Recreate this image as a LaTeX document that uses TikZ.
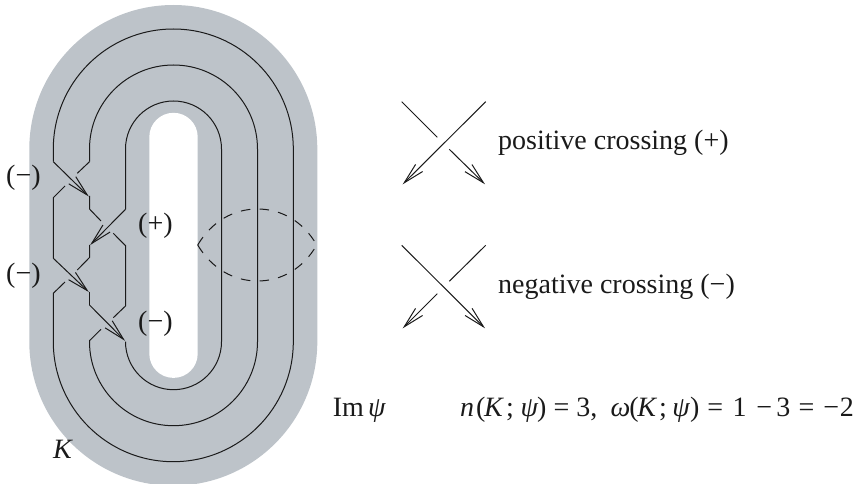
\documentclass[tikz,border=0pt]{standalone}
\usepackage{fontspec}
\setmainfont{Liberation Serif}
\usetikzlibrary{arrows.meta}
\definecolor{band}{HTML}{BDC3C9}
\definecolor{ink}{HTML}{1A1A1A}
\newcommand\placeat[2]{\makebox[0pt][l]{\hspace{#1pt}#2}}
\tikzset{
  strand/.style={draw=ink,line width=1pt,line join=miter},
  arrowed/.style={strand,-{Straight Barb[length=21pt,width=10pt,line width=1pt]}},
  lbl/.style={inner sep=0pt,anchor=base west,text=ink,font=\fontsize{28}{30}\selectfont},
  dashline/.style={draw=ink,line width=1pt,dash pattern=on 9.5pt off 9.3pt}
}
\begin{document}
\begin{tikzpicture}[x=1pt,y=-1pt]
\useasboundingbox (0,0) rectangle (855,484);
\begin{scope}
\clip (0,0) rectangle (855,484);
\fill[band] (29.3,149) arc[start angle=180,end angle=360,radius=144] -- (317.3,341.7)
  arc[start angle=0,end angle=180,radius=144] -- cycle;
\end{scope}
\fill[white] (149.3,137) arc[start angle=180,end angle=360,radius=24.2] -- (197.7,353.7)
  arc[start angle=0,end angle=180,radius=24.2] -- cycle;
\coordinate (t1) at (53.3,161.7);
\coordinate (t2) at (89.5,161.7);
\coordinate (t3) at (125.5,209.3);
% long strands
\draw[strand] (t1) -- (53.3,149) arc[start angle=180,end angle=360,radius=120] -- (293.3,341.7)
  arc[start angle=0,end angle=180,radius=120] -- (53.3,293.3) -- (65,282);
\draw[strand] (t2) -- (89.5,149) arc[start angle=180,end angle=360,radius=84] -- (257.5,341.7)
  arc[start angle=0,end angle=180,radius=84] -- (89.5,340.7) -- (101,329.3);
\draw[strand] (t3) -- (125.5,149) arc[start angle=180,end angle=360,radius=48] -- (221.5,341.7)
  arc[start angle=0,end angle=180,radius=48];
% braid region
\draw[arrowed] (t1) -- (88.8,196.5);
\draw[strand] (t2) -- (77.3,173.3);
\draw[strand] (65,186) -- (53.3,197.7) -- (53.3,258.3);
\draw[arrowed] (53.3,258.3) -- (88.8,292);
\draw[strand] (89.5,196) -- (89.5,209) -- (101,221);
\draw[strand] (113.3,233.3) -- (125.5,245.7) -- (125.5,306) -- (113.3,317.7);
\draw[arrowed] (t3) -- (90.2,245);
\draw[strand] (89.5,245) -- (89.5,257.5) -- (77.3,270);
\draw[strand] (89.5,291.5) -- (89.5,305);
\draw[arrowed] (89.5,305) -- (125,340.8);
% dashed lens
\draw[dashline] (197.7,245) .. controls (212,221) and (234,209) .. (257.5,209) .. controls (281,209) and (303,221) .. (316.7,245);
\draw[dashline] (197.7,245) .. controls (212,269) and (234,281) .. (257.5,281) .. controls (281,281) and (303,269) .. (316.7,245);
% positive crossing
\draw[arrowed] (485.7,101.7) -- (402.7,184.3);
\draw[strand] (401.7,101.7) -- (437.3,137.3);
\draw[arrowed] (449.3,149.3) -- (485,184.3);
% negative crossing
\draw[arrowed] (401.7,245.3) -- (485,328.3);
\draw[strand] (485.7,245.3) -- (449.3,281.3);
\draw[arrowed] (437.3,293.7) -- (402.7,328.3);
% labels
\node[lbl] (m1) at (6,185) {(−)};
\node[lbl] (m2) at (6,282) {(−)};
\node[lbl] (p1) at (138,233) {(+)};
\node[lbl] (m3) at (138,330) {(−)};
\node[lbl] (k) at (53,458) {\textit{K}};
\node[lbl] (pos) at (498,150) {positive crossing (+)};
\node[lbl] (neg) at (498,294) {negative crossing (−)};
\node[lbl] (im) at (332.7,416.7) {Im\hspace{4pt}\textit{ψ}};
\node[lbl] (eq) at (459.3,416.7) {\placeat{0}{\textit{n}}\placeat{16}{(}\placeat{24}{\textit{K}}\placeat{46}{;}\placeat{60.7}{\textit{ψ}}\placeat{77}{)}\placeat{93.7}{=}\placeat{116.5}{3,}\placeat{150.7}{\textit{ω}}\placeat{169.4}{(}\placeat{177.4}{\textit{K}}\placeat{199}{;}\placeat{212.4}{\textit{ψ}}\placeat{230}{)}\placeat{247.3}{=}\placeat{272.7}{1}\placeat{296.3}{−}\placeat{316.4}{3}\placeat{338.6}{=}\placeat{363.5}{−}\placeat{380}{2}\hspace{393pt}};
\end{tikzpicture}
\end{document}
